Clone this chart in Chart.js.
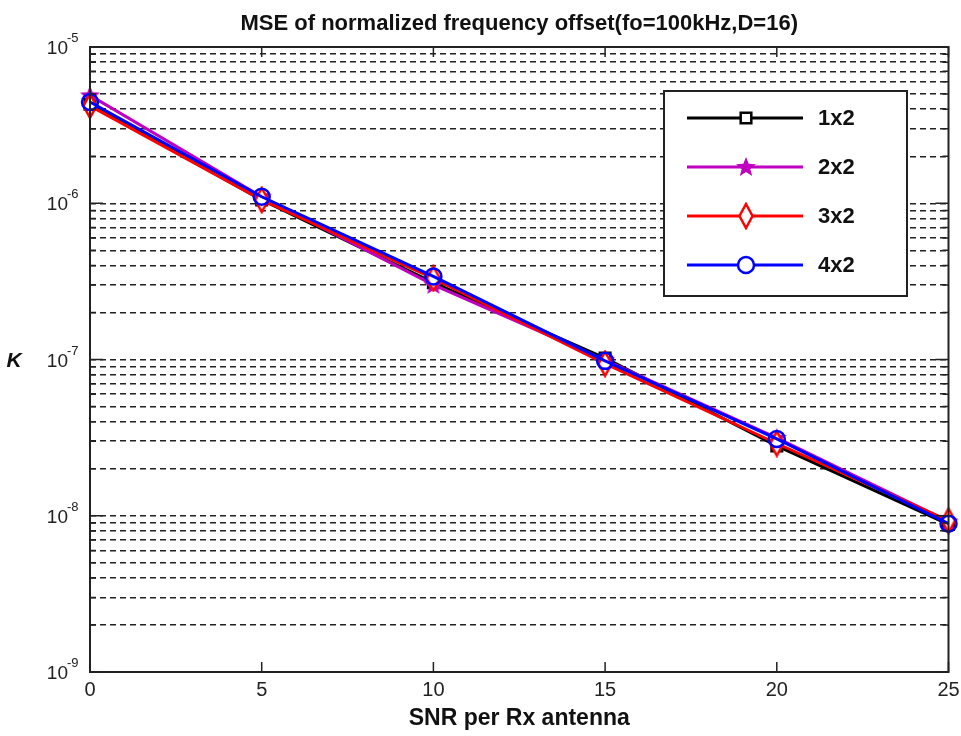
<!DOCTYPE html>
<html>
<head>
<meta charset="utf-8">
<script src="https://cdn.jsdelivr.net/npm/chart.js@4/dist/chart.umd.min.js"></script>
<style>
  html, body { margin: 0; background: #fff; }
</style>
</head>
<body>
<canvas id="chart-mse" width="961" height="736"></canvas>
<script>
const TITLE = 'MSE of normalized frequency offset(fo=100kHz,D=16)';
const X_LABEL = 'SNR per Rx antenna';
const Y_LABEL = 'K';

const SNR = [0, 5, 10, 15, 20, 25];
const MSE_1X2 = [4.3e-6, 1.05e-6, 3.1e-7, 1.02e-7, 2.8e-8, 8.8e-9];
const MSE_2X2 = [4.9e-6, 1.1e-6, 3.0e-7, 9.9e-8, 3.15e-8, 9.2e-9];
const MSE_3X2 = [4.2e-6, 1.05e-6, 3.3e-7, 9.4e-8, 2.9e-8, 9.3e-9];
const MSE_4X2 = [4.45e-6, 1.1e-6, 3.4e-7, 9.8e-8, 3.1e-8, 8.9e-9];
const SERIES_NAMES = ['1x2', '2x2', '3x2', '4x2'];

const X_TICKS = [0, 5, 10, 15, 20, 25];
const Y_DECADES = [-9, -8, -7, -6, -5];

const FONT = '"Liberation Sans", Arial, sans-serif';

// --- log grid: 1..9 x 10^n ---
const Y_TICKS = [];
Y_DECADES.forEach((d, i) => {
  const top = i === Y_DECADES.length - 1 ? 1 : 9;
  for (let m = 1; m <= top; m++) Y_TICKS.push(parseFloat((m * Math.pow(10, d)).toPrecision(3)));
});

// --- custom marker images (filled star, tall diamond) ---
function makeStar(color) {
  const c = document.createElement('canvas');
  c.width = 22; c.height = 22;
  const g = c.getContext('2d');
  g.fillStyle = color;
  g.beginPath();
  for (let i = 0; i < 10; i++) {
    const r = i % 2 === 0 ? 10.5 : 4.5;
    const a = -Math.PI / 2 + i * Math.PI / 5;
    g.lineTo(11 + r * Math.cos(a), 11.5 + r * Math.sin(a));
  }
  g.closePath();
  g.fill();
  return c;
}

function makeDiamond(color) {
  const c = document.createElement('canvas');
  c.width = 18; c.height = 28;
  const g = c.getContext('2d');
  g.strokeStyle = color;
  g.fillStyle = '#fff';
  g.lineWidth = 2.5;
  g.beginPath();
  g.moveTo(9, 2); g.lineTo(15.5, 14); g.lineTo(9, 26); g.lineTo(2.5, 14);
  g.closePath();
  g.fill();
  g.stroke();
  return c;
}

const STYLES = [
  { color: '#000000', point: 'rect', radius: 7.5 },
  { color: '#bf00bf', point: makeStar('#bf00bf'), radius: 10 },
  { color: '#ff0000', point: makeDiamond('#ff0000'), radius: 10 },
  { color: '#0000ff', point: 'circle', radius: 8 },
];
const SERIES = [MSE_1X2, MSE_2X2, MSE_3X2, MSE_4X2];

const datasets = SERIES.map((vals, i) => ({
  label: SERIES_NAMES[i],
  data: SNR.map((x, j) => ({ x: x, y: vals[j] })),
  borderColor: STYLES[i].color,
  backgroundColor: 'rgba(255,255,255,0)',
  borderWidth: 3,
  pointStyle: STYLES[i].point,
  pointRadius: STYLES[i].radius,
  pointBorderWidth: 2.5,
  pointBorderColor: STYLES[i].color,
  pointBackgroundColor: 'rgba(255,255,255,0)',
  order: SERIES.length - i,
  tension: 0,
  clip: false,
}));

// --- frame, inner ticks, superscript labels, title, legend ---
const decorPlugin = {
  id: 'decor',
  afterDraw(chart) {
    const { ctx, chartArea: a, scales } = chart;
    const xs = scales.x, ys = scales.y;
    ctx.save();

    // frame
    ctx.strokeStyle = '#222';
    ctx.lineWidth = 2;
    ctx.setLineDash([]);
    ctx.strokeRect(a.left, a.top, a.right - a.left, a.bottom - a.top);

    // inner ticks on x
    ctx.lineWidth = 1.5;
    ctx.beginPath();
    X_TICKS.forEach(v => {
      const px = xs.getPixelForValue(v);
      ctx.moveTo(px, a.bottom); ctx.lineTo(px, a.bottom - 10);
      ctx.moveTo(px, a.top); ctx.lineTo(px, a.top + 10);
    });
    // inner ticks on y
    Y_TICKS.forEach(v => {
      const py = ys.getPixelForValue(v);
      const major = Y_DECADES.some(d => Math.abs(v - Math.pow(10, d)) < 1e-15);
      const len = major ? 13 : 6;
      ctx.moveTo(a.left, py); ctx.lineTo(a.left + len, py);
      ctx.moveTo(a.right, py); ctx.lineTo(a.right - len, py);
    });
    ctx.stroke();

    // y tick labels 10^n
    ctx.fillStyle = '#222';
    Y_DECADES.forEach(d => {
      const py = ys.getPixelForValue(Math.pow(10, d));
      ctx.font = '19px ' + FONT;
      ctx.textAlign = 'right';
      ctx.textBaseline = 'alphabetic';
      ctx.fillText('10', a.left - 22, py + 7);
      ctx.font = '13px ' + FONT;
      ctx.textAlign = 'left';
      ctx.fillText(String(d), a.left - 23, py - 5);
    });

    // title
    ctx.font = 'bold 22px ' + FONT;
    ctx.textAlign = 'center';
    ctx.fillStyle = '#111';
    ctx.fillText(TITLE, (a.left + a.right) / 2, 30);

    // y label
    ctx.font = 'italic bold 21px ' + FONT;
    ctx.fillText(Y_LABEL, 14, (a.top + a.bottom) / 2 + 7);

    // legend box
    const lx = 664, ly = 91, lw = 243, lh = 205;
    ctx.fillStyle = '#fff';
    ctx.fillRect(lx, ly, lw, lh);
    ctx.strokeStyle = '#222';
    ctx.lineWidth = 2;
    ctx.strokeRect(lx, ly, lw, lh);
    SERIES_NAMES.forEach((name, i) => {
      const ry = ly + 27 + i * 49;
      const st = STYLES[i];
      ctx.strokeStyle = st.color;
      ctx.lineWidth = 3;
      ctx.beginPath();
      ctx.moveTo(lx + 23, ry); ctx.lineTo(lx + 139, ry);
      ctx.stroke();
      ctx.fillStyle = '#fff';
      ctx.lineWidth = 2.5;
      Chart.helpers.drawPoint(ctx, { pointStyle: st.point, radius: st.radius, rotation: 0, borderWidth: 2.5 }, lx + 82, ry);
      ctx.fillStyle = '#111';
      ctx.font = 'bold 22px ' + FONT;
      ctx.textAlign = 'left';
      ctx.textBaseline = 'middle';
      ctx.fillText(name, lx + 154, ry + 1);
    });

    ctx.restore();
  }
};

new Chart(document.getElementById('chart-mse'), {
  type: 'line',
  data: { datasets },
  options: {
    responsive: false,
    animation: false,
    devicePixelRatio: 1,
    layout: { padding: { left: 0, right: 11, top: 47, bottom: 0 } },
    plugins: { legend: { display: false }, tooltip: { enabled: false } },
    scales: {
      x: {
        type: 'linear',
        min: 0,
        max: 25,
        afterBuildTicks: s => { s.ticks = X_TICKS.map(v => ({ value: v })); },
        afterFit: s => { s.height = 64; s.paddingRight = 0; s.paddingLeft = 0; },
        ticks: { color: '#222', font: { family: FONT, size: 20 }, padding: 6, maxRotation: 0 },
        grid: { drawOnChartArea: false, drawTicks: false },
        border: { display: false },
        title: {
          display: true,
          text: X_LABEL,
          color: '#111',
          font: { family: FONT, size: 23, weight: 'bold' },
          padding: { top: 0, bottom: 4 },
        },
      },
      y: {
        type: 'logarithmic',
        min: 1e-9,
        max: 1e-5,
        afterBuildTicks: s => { s.ticks = Y_TICKS.map(v => ({ value: v })); },
        afterFit: s => { s.width = 90; },
        ticks: { display: false },
        grid: { color: '#222', lineWidth: 1.4, drawTicks: false },
        border: { display: false, dash: [6, 4] },
      },
    },
  },
  plugins: [decorPlugin],
});
</script>
</body>
</html>
